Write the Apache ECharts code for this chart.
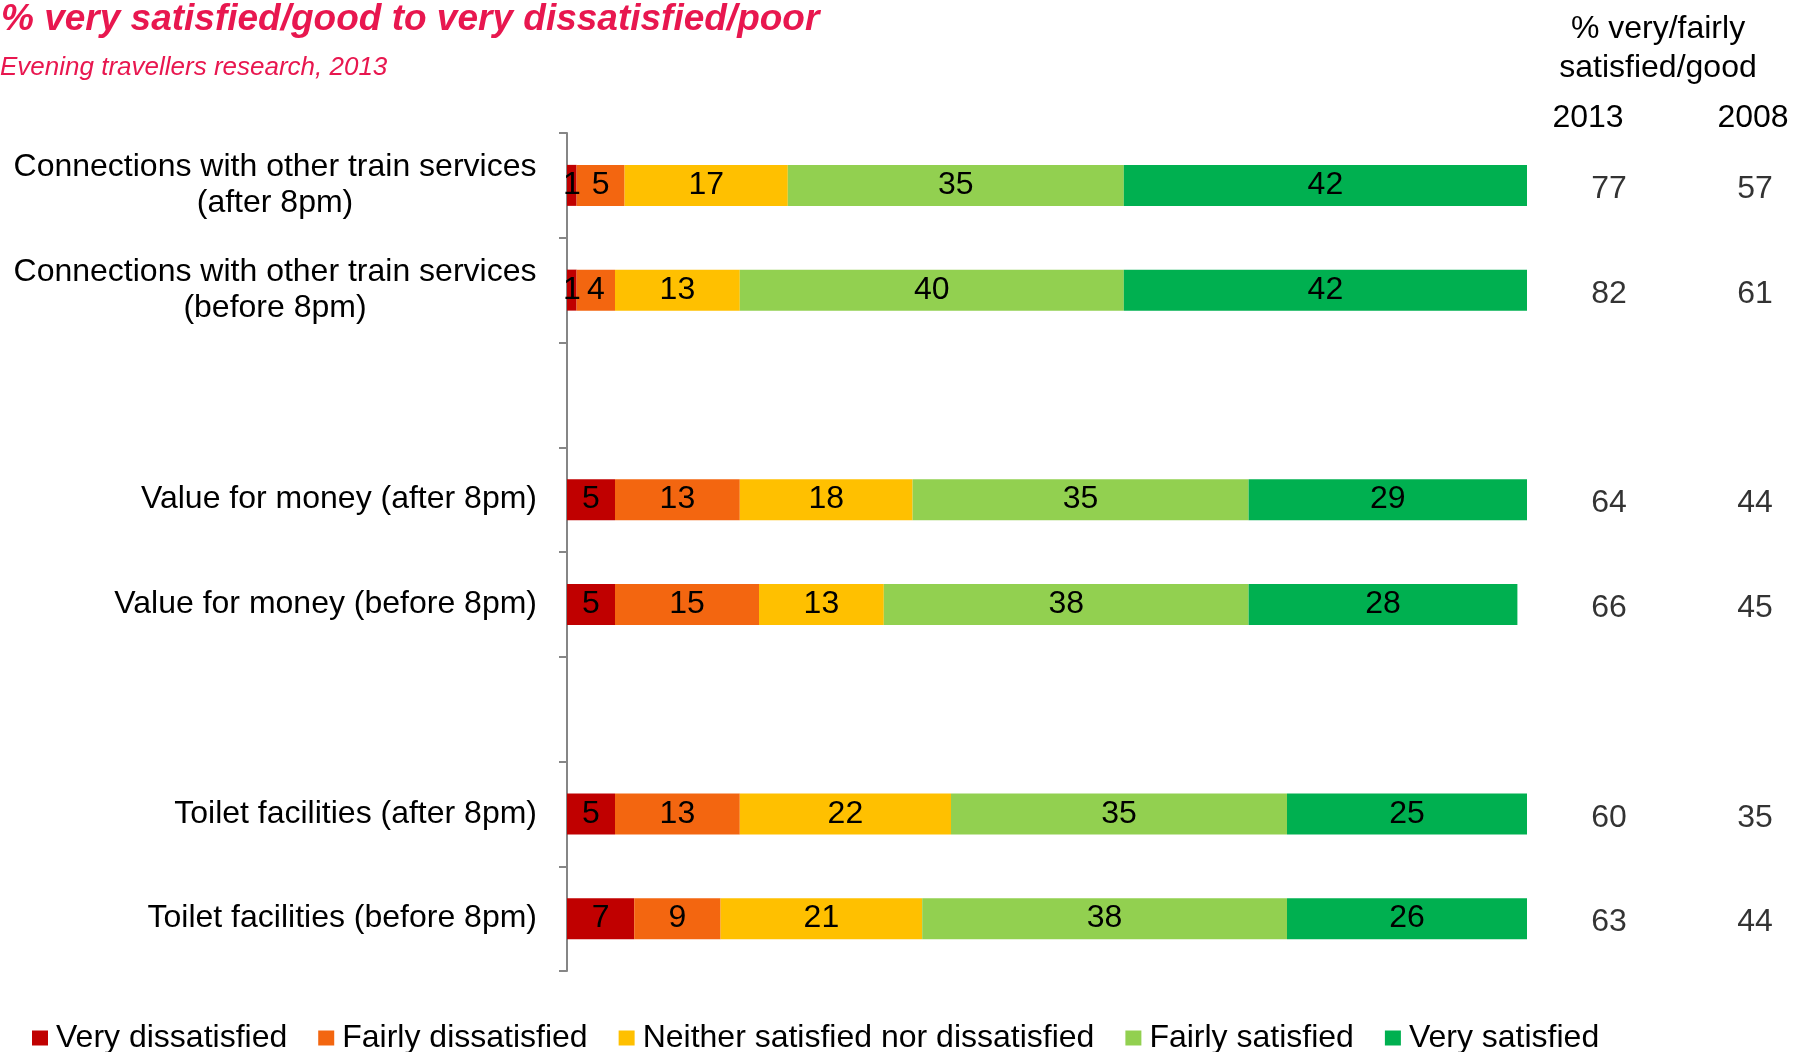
<!DOCTYPE html>
<html>
<head>
<meta charset="utf-8">
<title>Evening travellers research, 2013</title>
<script src="https://cdn.jsdelivr.net/npm/echarts@6/dist/echarts.min.js"></script>
<style>
  html, body { margin: 0; padding: 0; background: #ffffff; }
  #chart { width: 1793px; height: 1052px; }
</style>
</head>
<body>
<div id="chart"></div>
<script>
// Row labels, top to bottom (blank rows separate the three topics)
const categories = [
  'Connections with other train services\n(after 8pm)',
  'Connections with other train services\n(before 8pm)',
  '',
  'Value for money (after 8pm)',
  'Value for money (before 8pm)',
  ' ',
  'Toilet facilities (after 8pm)',
  'Toilet facilities (before 8pm)'
];

// Percentages per response band
const veryDissatisfied   = [1, 1, null, 5, 5, null, 5, 7];
const fairlyDissatisfied = [5, 4, null, 13, 15, null, 13, 9];
const neither            = [17, 13, null, 18, 13, null, 22, 21];
const fairlySatisfied    = [35, 40, null, 35, 38, null, 35, 38];
const verySatisfied      = [42, 42, null, 29, 28, null, 25, 26];

// % very/fairly satisfied/good, 2013 vs 2008
const yearColumns = ['2013', '2008'];
const satisfied2013 = [77, 82, null, 64, 66, null, 60, 63];
const satisfied2008 = [57, 61, null, 44, 45, null, 35, 44];

const FONT = "'Liberation Sans', Arial, Helvetica, sans-serif";
const PINK = '#E8174F';
const FS = 32;

const bands = [
  { name: 'Very dissatisfied', data: veryDissatisfied, color: '#C00000' },
  { name: 'Fairly dissatisfied', data: fairlyDissatisfied, color: '#F36610' },
  { name: 'Neither satisfied nor dissatisfied', data: neither, color: '#FFC000' },
  { name: 'Fairly satisfied', data: fairlySatisfied, color: '#92D050' },
  { name: 'Very satisfied', data: verySatisfied, color: '#00B050' }
];

const GRID_TOP = 133;
const GRID_HEIGHT = 838;

const barSeries = bands.map(b => ({
  name: b.name,
  type: 'bar',
  stack: 'total',
  xAxisIndex: 0,
  yAxisIndex: 0,
  barWidth: 41,
  itemStyle: { color: b.color },
  label: {
    show: true,
    position: 'inside',
    color: '#000',
    fontFamily: FONT,
    fontSize: FS,
    formatter: p => (p.value == null ? '' : String(p.value))
  },
  emphasis: { disabled: true },
  data: b.data
}));

function columnSeries(values, col) {
  return {
    type: 'scatter',
    xAxisIndex: 1,
    yAxisIndex: 1,
    symbol: 'circle',
    symbolSize: 1,
    itemStyle: { color: 'rgba(0,0,0,0)' },
    silent: true,
    label: {
      show: true,
      position: 'inside',
      offset: [0, 4],
      color: '#000',
      fontFamily: FONT,
      fontSize: FS,
      formatter: p => String(p.value[2])
    },
    data: values.map((v, i) => (v == null ? null : [col, i, v])).filter(d => d)
  };
}

const option = {
  animation: false,
  backgroundColor: '#ffffff',
  textStyle: { fontFamily: FONT },
  title: [
    {
      text: '% very satisfied/good to very dissatisfied/poor',
      left: -4,
      top: -4,
      textStyle: { fontFamily: FONT, fontSize: 37, fontWeight: 'bold', fontStyle: 'italic', color: PINK }
    },
    {
      text: 'Evening travellers research, 2013',
      left: -5,
      top: 50,
      textStyle: { fontFamily: FONT, fontSize: 26, fontWeight: 'normal', fontStyle: 'italic', color: PINK }
    }
  ],
  graphic: [
    {
      type: 'text',
      x: 1658,
      y: 10,
      style: {
        text: '% very/fairly\nsatisfied/good',
        fill: '#000',
        font: FS + 'px ' + FONT,
        lineHeight: 39,
        align: 'center',
        verticalAlign: 'top'
      }
    },
    {
      type: 'text',
      x: 1588,
      y: 102,
      style: { text: yearColumns[0], fill: '#000', font: FS + 'px ' + FONT, align: 'center', verticalAlign: 'top' }
    },
    {
      type: 'text',
      x: 1753,
      y: 102,
      style: { text: yearColumns[1], fill: '#000', font: FS + 'px ' + FONT, align: 'center', verticalAlign: 'top' }
    }
  ],
  legend: {
    data: bands.map(b => b.name),
    left: 27,
    top: 1017,
    icon: 'rect',
    itemWidth: 16,
    itemHeight: 15,
    itemGap: 31,
    selectedMode: false,
    textStyle: {
      fontFamily: FONT,
      fontSize: FS,
      lineHeight: 32,
      color: '#000',
      padding: [0, 0, 0, 3]
    }
  },
  grid: [
    { left: 567, top: GRID_TOP, width: 960, height: GRID_HEIGHT },
    { left: 1609, top: GRID_TOP, width: 146, height: GRID_HEIGHT }
  ],
  xAxis: [
    { type: 'value', gridIndex: 0, min: 0, max: 100, show: false },
    { type: 'value', gridIndex: 1, min: 0, max: 1, show: false }
  ],
  yAxis: [
    {
      type: 'category',
      gridIndex: 0,
      inverse: true,
      data: categories,
      axisLine: { show: true, lineStyle: { color: '#868686', width: 2 } },
      axisTick: { show: true, length: 8, lineStyle: { color: '#868686', width: 2 } },
      splitLine: { show: false },
      axisLabel: {
        margin: 30,
        color: '#000',
        fontFamily: FONT,
        fontSize: FS,
        lineHeight: 36,
        formatter: v => v.includes('\n')
          ? v.split('\n').map(line => '{c|' + line + '}').join('\n')
          : v,
        rich: {
          c: { width: 524, align: 'center', fontFamily: FONT, fontSize: FS, lineHeight: 36, color: '#000' }
        }
      }
    },
    {
      type: 'category',
      gridIndex: 1,
      inverse: true,
      data: categories,
      show: false
    }
  ],
  series: [
    ...barSeries,
    columnSeries(satisfied2013, 0),
    columnSeries(satisfied2008, 1)
  ]
};

const chart = echarts.init(document.getElementById('chart'), null, { renderer: 'canvas' });
chart.setOption(option);
</script>
</body>
</html>
